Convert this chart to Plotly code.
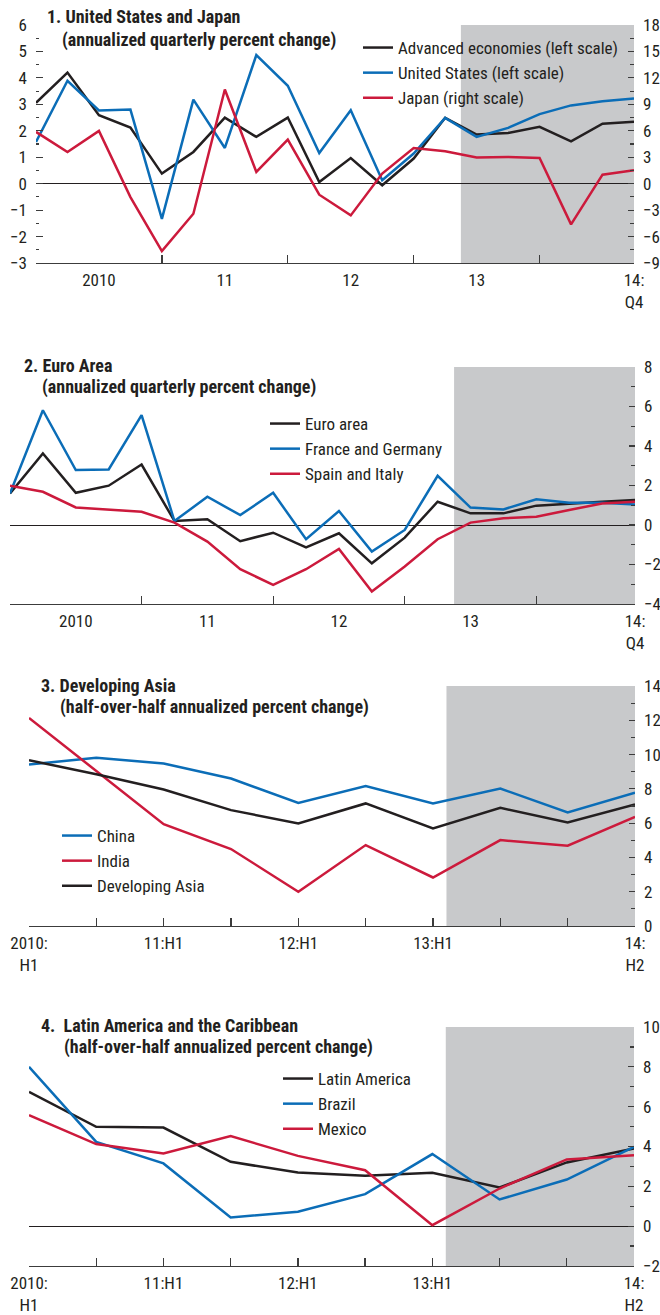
import plotly.graph_objects as go

# ---------------- data ----------------
q_idx = list(range(20))  # 2010:Q1 .. 2014:Q4
adv_econ = [3.06, 4.2, 2.59, 2.12, 0.38, 1.2, 2.5, 1.77, 2.5, 0.06,
            0.97, -0.06, 0.95, 2.49, 1.86, 1.92, 2.15, 1.6, 2.27, 2.34]
us = [1.58, 3.89, 2.77, 2.8, -1.33, 3.18, 1.35, 4.86, 3.7, 1.16,
      2.78, 0.13, 1.14, 2.49, 1.77, 2.11, 2.63, 2.96, 3.12, 3.22]
japan = [5.87, 3.6, 5.99, -1.52, -7.65, -3.41, 10.69, 1.33, 5.0, -1.25,
         -3.6, 1.14, 4.05, 3.67, 2.96, 3.03, 2.92, -4.62, 1.02, 1.52]

euro_area = [1.6, 3.62, 1.63, 1.99, 3.06, 0.2, 0.29, -0.82, -0.39, -1.13,
             -0.42, -1.94, -0.64, 1.18, 0.59, 0.59, 0.98, 1.09, 1.18, 1.26]
fra_ger = [1.6, 5.81, 2.78, 2.81, 5.56, 0.2, 1.43, 0.5, 1.63, -0.72,
           0.71, -1.35, -0.25, 2.49, 0.88, 0.79, 1.3, 1.13, 1.13, 1.04]
spa_ita = [1.99, 1.68, 0.89, 0.79, 0.67, 0.12, -0.84, -2.24, -3.03, -2.24,
           -1.21, -3.37, -2.1, -0.72, 0.12, 0.34, 0.42, 0.76, 1.09, 1.18]

h_idx = list(range(10))  # 2010:H1 .. 2014:H2
china = [9.42, 9.81, 9.48, 8.6, 7.18, 8.16, 7.15, 8.02, 6.62, 7.77]
india = [12.14, 9.05, 5.94, 4.49, 2.0, 4.72, 2.83, 5.01, 4.68, 6.37]
dev_asia = [9.67, 8.85, 7.96, 6.76, 5.98, 7.15, 5.69, 6.89, 6.04, 7.09]

latam = [6.74, 4.99, 4.95, 3.23, 2.69, 2.53, 2.68, 1.94, 3.2, 3.9]
brazil = [8.0, 4.23, 3.15, 0.44, 0.72, 1.61, 3.62, 1.34, 2.34, 3.98]
mexico = [5.57, 4.12, 3.65, 4.52, 3.53, 2.81, 0.05, 1.89, 3.35, 3.56]

q_label_pos = [2, 6, 10, 14, 19]
q_labels = ["2010", "11", "12", "13", "14:<br>Q4"]
q_tick_pos = [0, 4, 8, 12, 16]
h_label_pos = [0, 2, 4, 6, 9]
h_labels = ["2010:<br>H1", "11:H1", "12:H1", "13:H1", "14:<br>H2"]
h_tick_pos = [0, 1, 2, 3, 4, 5, 6, 7, 8]

q_forecast_start = 13.5
h_forecast_start = 6.2

# ---------------- style ----------------
W, H = 660, 1315
FONT = "Liberation Sans Narrow, Roboto Condensed, DejaVu Sans Condensed, Arial Narrow, sans-serif"
TXT = "#231f20"
BLACK = "#231f20"
BLUE = "#0b6db7"
RED = "#cc1a3c"
SHADE = "#c8c9cb"
LW = 2.5
FS = 17
TFS = 18


def px(x):
    return x / W


def py(y):
    return 1 - y / H


fig = go.Figure()

# panel 1
fig.add_trace(go.Scatter(x=q_idx, y=adv_econ, mode="lines", name="Advanced economies (left scale)",
                         line=dict(color=BLACK, width=LW), xaxis="x", yaxis="y", legend="legend"))
fig.add_trace(go.Scatter(x=q_idx, y=us, mode="lines", name="United States (left scale)",
                         line=dict(color=BLUE, width=LW), xaxis="x", yaxis="y", legend="legend"))
fig.add_trace(go.Scatter(x=q_idx, y=japan, mode="lines", name="Japan (right scale)",
                         line=dict(color=RED, width=LW), xaxis="x", yaxis="y2", legend="legend"))
# panel 2
fig.add_trace(go.Scatter(x=q_idx, y=euro_area, mode="lines", name="Euro area",
                         line=dict(color=BLACK, width=LW), xaxis="x2", yaxis="y3", legend="legend2"))
fig.add_trace(go.Scatter(x=q_idx, y=fra_ger, mode="lines", name="France and Germany",
                         line=dict(color=BLUE, width=LW), xaxis="x2", yaxis="y3", legend="legend2"))
fig.add_trace(go.Scatter(x=q_idx, y=spa_ita, mode="lines", name="Spain and Italy",
                         line=dict(color=RED, width=LW), xaxis="x2", yaxis="y3", legend="legend2"))
# panel 3
fig.add_trace(go.Scatter(x=h_idx, y=china, mode="lines", name="China",
                         line=dict(color=BLUE, width=LW), xaxis="x3", yaxis="y5", legend="legend3"))
fig.add_trace(go.Scatter(x=h_idx, y=india, mode="lines", name="India",
                         line=dict(color=RED, width=LW), xaxis="x3", yaxis="y5", legend="legend3"))
fig.add_trace(go.Scatter(x=h_idx, y=dev_asia, mode="lines", name="Developing Asia",
                         line=dict(color=BLACK, width=LW), xaxis="x3", yaxis="y5", legend="legend3"))
# panel 4
fig.add_trace(go.Scatter(x=h_idx, y=latam, mode="lines", name="Latin America",
                         line=dict(color=BLACK, width=LW), xaxis="x4", yaxis="y7", legend="legend4"))
fig.add_trace(go.Scatter(x=h_idx, y=brazil, mode="lines", name="Brazil",
                         line=dict(color=BLUE, width=LW), xaxis="x4", yaxis="y7", legend="legend4"))
fig.add_trace(go.Scatter(x=h_idx, y=mexico, mode="lines", name="Mexico",
                         line=dict(color=RED, width=LW), xaxis="x4", yaxis="y7", legend="legend4"))

# panel geometry (pixels)
panels = {
    1: dict(x0=36, x1=634, y0=25, y1=263),
    2: dict(x0=10, x1=635, y0=367, y1=604),
    3: dict(x0=29, x1=635, y0=686, y1=926),
    4: dict(x0=29, x1=634, y0=1027, y1=1266),
}


def xaxis_cfg(p, rng, labpos, labs, tickpos):
    g = panels[p]
    return dict(domain=[px(g["x0"]), px(g["x1"])], range=rng, automargin=False,
                showgrid=False, zeroline=False, showline=True, linecolor="#3c3c3c", linewidth=1.3,
                tickmode="array", tickvals=labpos, ticktext=labs, ticks="inside", ticklen=0,
                tickfont=dict(family=FONT, size=FS, color=TXT), ticklabelstandoff=1,
                minor=dict(tickmode="array", tickvals=tickpos, ticks="inside", ticklen=8,
                           tickwidth=1.3, tickcolor="#3c3c3c", showgrid=False),
                fixedrange=True)


def yaxis_cfg(p, rng, dtick, mdtick, side, labels, zeroline, ticklen, mlen):
    g = panels[p]
    return dict(domain=[py(g["y1"]), py(g["y0"])], range=rng, side=side, automargin=False,
                showgrid=False, zeroline=zeroline, zerolinecolor=BLACK, zerolinewidth=1,
                showline=False, tickmode="linear", tick0=0, dtick=dtick,
                ticks="inside", ticklen=ticklen, tickwidth=1.2, tickcolor="#3c3c3c",
                showticklabels=labels, tickfont=dict(family=FONT, size=FS, color=TXT),
                ticklabelstandoff=8,
                minor=dict(tickmode="linear", tick0=0, dtick=mdtick, ticks="inside", ticklen=mlen,
                           tickwidth=1.2, tickcolor="#3c3c3c", showgrid=False),
                fixedrange=True)


layout = dict(
    template="none",
    width=W, height=H, margin=dict(l=0, r=0, t=0, b=0, pad=0, autoexpand=False),
    paper_bgcolor="white", plot_bgcolor="rgba(0,0,0,0)",
    font=dict(family=FONT, size=FS, color=TXT),
    showlegend=True,
)

# panel 1 axes
layout["xaxis"] = xaxis_cfg(1, [0, 19], q_label_pos, q_labels, q_tick_pos)
layout["xaxis"]["anchor"] = "y"
layout["yaxis"] = yaxis_cfg(1, [-3, 6], 1, 0.5, "left", True, True, 7, 3)
layout["yaxis"]["anchor"] = "x"
layout["yaxis2"] = yaxis_cfg(1, [-9, 18], 3, 1.5, "right", True, False, 6, 4)
layout["yaxis2"].update(overlaying="y", anchor="x")
# panel 2 axes
layout["xaxis2"] = xaxis_cfg(2, [0, 19], q_label_pos, q_labels, q_tick_pos)
layout["xaxis2"]["anchor"] = "y3"
layout["yaxis3"] = yaxis_cfg(2, [-4, 8], 2, 1, "right", True, True, 6, 4)
layout["yaxis3"]["anchor"] = "x2"
layout["yaxis4"] = yaxis_cfg(2, [-4, 8], 2, 1, "left", False, False, 7, 3)
layout["yaxis4"].update(overlaying="y3", anchor="x2")
# panel 3 axes
layout["xaxis3"] = xaxis_cfg(3, [0, 9], h_label_pos, h_labels, h_tick_pos)
layout["xaxis3"]["anchor"] = "y5"
layout["yaxis5"] = yaxis_cfg(3, [0, 14], 2, 1, "right", True, False, 6, 4)
layout["yaxis5"]["anchor"] = "x3"
layout["yaxis6"] = yaxis_cfg(3, [0, 14], 2, 1, "left", False, False, 7, 3)
layout["yaxis6"].update(overlaying="y5", anchor="x3")
# panel 4 axes
layout["xaxis4"] = xaxis_cfg(4, [0, 9], h_label_pos, h_labels, h_tick_pos)
layout["xaxis4"]["anchor"] = "y7"
layout["yaxis7"] = yaxis_cfg(4, [-2, 10], 2, 1, "right", True, True, 6, 4)
layout["yaxis7"]["anchor"] = "x4"
layout["yaxis8"] = yaxis_cfg(4, [-2, 10], 2, 1, "left", False, False, 7, 3)
layout["yaxis8"].update(overlaying="y7", anchor="x4")


def legend_cfg(x, y):
    return dict(x=px(x), y=py(y), xanchor="left", yanchor="top", bgcolor="rgba(0,0,0,0)",
                borderwidth=0, font=dict(family=FONT, size=FS, color=TXT),
                tracegroupgap=0, itemclick=False, itemdoubleclick=False)


layout["legend"] = legend_cfg(358, 30)
layout["legend2"] = legend_cfg(265, 406)
layout["legend3"] = legend_cfg(57, 818)
layout["legend4"] = legend_cfg(278, 1061)

fig.update_layout(**layout)

# forecast shading
for xr, yr, start, end in [("x", "y", q_forecast_start, 19), ("x2", "y3", q_forecast_start, 19),
                           ("x3", "y5", h_forecast_start, 9), ("x4", "y7", h_forecast_start, 9)]:
    fig.add_shape(type="rect", xref=xr, yref=yr + " domain", x0=start, x1=end, y0=0, y1=1,
                  fillcolor=SHADE, line=dict(width=0), layer="below")

# titles
titles = [
    (45, 17, "<b>1. United States and Japan</b>"),
    (60, 40, "<b>(annualized quarterly percent change)</b>"),
    (22, 365, "<b>2. Euro Area</b>"),
    (40, 387, "<b>(annualized quarterly percent change)</b>"),
    (39, 686, "<b>3. Developing Asia</b>"),
    (58, 707, "<b>(half-over-half annualized percent change)</b>"),
    (39, 1025, "<b>4.  Latin America and the Caribbean</b>"),
    (62, 1047, "<b>(half-over-half annualized percent change)</b>"),
]
for x, y, t in titles:
    fig.add_annotation(x=px(x), y=py(y), xref="paper", yref="paper", text=t, showarrow=False,
                       xanchor="left", yanchor="middle", font=dict(family=FONT, size=TFS, color=TXT))

fig.write_html("out.html", config={"displayModeBar": False, "staticPlot": True},
               post_script="document.body.style.margin='0';")
